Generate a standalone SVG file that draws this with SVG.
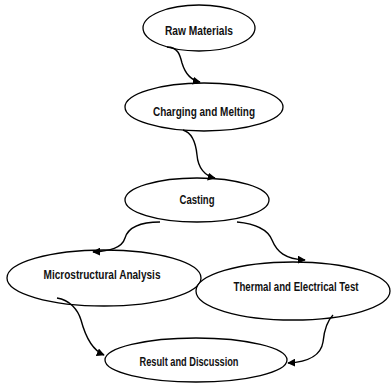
<svg xmlns="http://www.w3.org/2000/svg" width="391" height="383" viewBox="0 0 391 383">
<style>
.node ellipse{fill:#fff;stroke:#000;stroke-width:1.3}
.node text{font-family:"Liberation Sans",Arial,sans-serif;font-weight:bold;font-size:12px;fill:#111;text-anchor:middle}
.edge path{fill:none;stroke:#000;stroke-width:1.4}
</style>
<defs>
<marker id="arr" viewBox="0 0 10 10" refX="9" refY="5" markerWidth="8" markerHeight="8" markerUnits="userSpaceOnUse" orient="auto">
<path d="M0,0 L10,5 L0,10 Z" fill="#000"/>
</marker>
</defs>
<rect width="391" height="383" fill="#fff"/>
<g id="raw" class="node">
<ellipse cx="199" cy="28" rx="56" ry="23"/>
<text x="199" y="35" textLength="68" lengthAdjust="spacingAndGlyphs">Raw Materials</text>
</g>
<g id="charging" class="node">
<ellipse cx="204" cy="107" rx="79" ry="24"/>
<text x="204" y="116" textLength="102" lengthAdjust="spacingAndGlyphs">Charging and Melting</text>
</g>
<g id="casting" class="node">
<ellipse cx="197" cy="200" rx="72" ry="22"/>
<text x="197" y="204" textLength="35" lengthAdjust="spacingAndGlyphs">Casting</text>
</g>
<g id="micro" class="node">
<ellipse cx="104" cy="278" rx="97" ry="28"/>
<text x="102" y="279" textLength="117" lengthAdjust="spacingAndGlyphs">Microstructural Analysis</text>
</g>
<g id="thermal" class="node">
<ellipse cx="293" cy="291" rx="97" ry="29"/>
<text x="296" y="291" textLength="125" lengthAdjust="spacingAndGlyphs">Thermal and Electrical Test</text>
</g>
<g id="result" class="node">
<ellipse cx="196" cy="360" rx="91" ry="22"/>
<text x="189" y="366" textLength="99" lengthAdjust="spacingAndGlyphs">Result and Discussion</text>
</g>
<g id="connectors" class="edge">
<path d="M167,47 C178,47 180,55 182,63 C185,73 190,80 200,82" marker-end="url(#arr)"/>
<path d="M183,130 C193,133 196,145 197,155 C198,168 205,176 215,178" marker-end="url(#arr)"/>
<path d="M160,222 C140,222 128,228 125,238 C122,248 110,251 93,252" marker-end="url(#arr)"/>
<path d="M237,222 C258,224 268,230 272,240 C277,252 285,259 305,260" marker-end="url(#arr)"/>
<path d="M57,298 C70,300 78,310 81,320 C85,335 92,350 104,355" marker-end="url(#arr)"/>
<path d="M333,315 C326,322 324,332 323,342 C321,355 308,362 288,363" marker-end="url(#arr)"/>
</g>
</svg>
